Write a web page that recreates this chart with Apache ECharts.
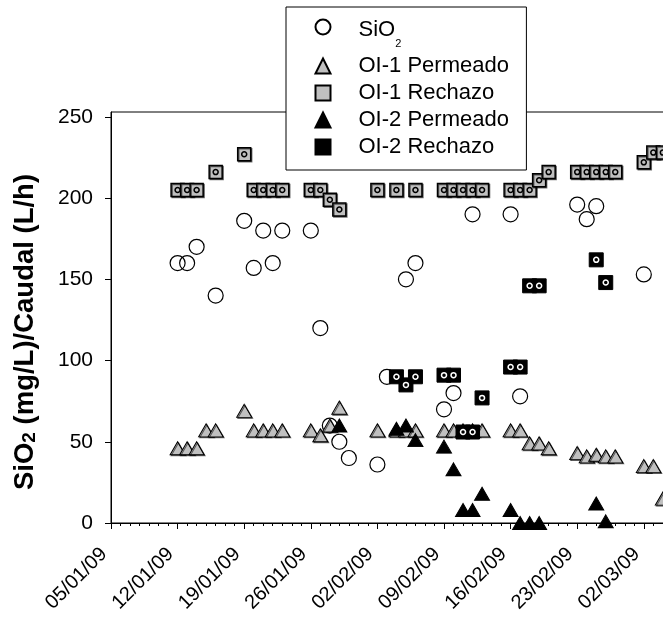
<!DOCTYPE html>
<html><head><meta charset="utf-8">
<script src="https://cdn.jsdelivr.net/npm/echarts@6/dist/echarts.min.js"></script>
<style>html,body{margin:0;padding:0;background:#fff}#c{width:663px;height:622px}</style>
</head><body><div id="c"></div>
<script>
// ---- data (dates as YYYY-MM-DD, values in mg/L or L/h) ----
const xTickLabels = ['05/01/09','12/01/09','19/01/09','26/01/09','02/02/09','09/02/09','16/02/09','23/02/09','02/03/09','09/03/09'];
const yTicks = [0, 50, 100, 150, 200, 250];

const sio2Dates = ['2009-01-12','2009-01-13','2009-01-14','2009-01-16','2009-01-19','2009-01-20','2009-01-21','2009-01-22','2009-01-23','2009-01-26','2009-01-27','2009-01-28','2009-01-29','2009-01-30','2009-02-02','2009-02-03','2009-02-05','2009-02-06','2009-02-09','2009-02-10','2009-02-12','2009-02-16','2009-02-17','2009-02-23','2009-02-24','2009-02-25','2009-03-02'];
const sio2Values = [160,160,170,140,186,157,180,160,180,180,120,60,50,40,36,90,150,160,70,80,190,190,78,196,187,195,153];

const oi1PermDates = ['2009-01-12','2009-01-13','2009-01-14','2009-01-15','2009-01-16','2009-01-19','2009-01-20','2009-01-21','2009-01-22','2009-01-23','2009-01-26','2009-01-27','2009-01-28','2009-01-29','2009-02-02','2009-02-04','2009-02-05','2009-02-06','2009-02-09','2009-02-10','2009-02-11','2009-02-12','2009-02-13','2009-02-16','2009-02-17','2009-02-18','2009-02-19','2009-02-20','2009-02-23','2009-02-24','2009-02-25','2009-02-26','2009-02-27','2009-03-02','2009-03-03','2009-03-04'];
const oi1PermValues = [46,46,46,57,57,69,57,57,57,57,57,54,60,71,57,57,57,57,57,57,57,57,57,57,57,49,49,46,43,41,42,41,41,35,35,15];

const oi1RechDates = ['2009-01-12','2009-01-13','2009-01-14','2009-01-16','2009-01-19','2009-01-20','2009-01-21','2009-01-22','2009-01-23','2009-01-26','2009-01-27','2009-01-28','2009-01-29','2009-02-02','2009-02-04','2009-02-06','2009-02-09','2009-02-10','2009-02-11','2009-02-12','2009-02-13','2009-02-16','2009-02-17','2009-02-18','2009-02-19','2009-02-20','2009-02-23','2009-02-24','2009-02-25','2009-02-26','2009-02-27','2009-03-02','2009-03-03','2009-03-04'];
const oi1RechValues = [205,205,205,216,227,205,205,205,205,205,205,199,193,205,205,205,205,205,205,205,205,205,205,205,211,216,216,216,216,216,216,222,228,228];

const oi2PermDates = ['2009-01-29','2009-02-04','2009-02-05','2009-02-06','2009-02-09','2009-02-10','2009-02-11','2009-02-12','2009-02-13','2009-02-16','2009-02-17','2009-02-18','2009-02-19','2009-02-25','2009-02-26'];
const oi2PermValues = [60,58,60,51,47,33,8,8,18,8,0,0,0,12,1];

const oi2RechDates = ['2009-02-04','2009-02-05','2009-02-06','2009-02-09','2009-02-10','2009-02-11','2009-02-12','2009-02-13','2009-02-16','2009-02-17','2009-02-18','2009-02-19','2009-02-25','2009-02-26'];
const oi2RechValues = [90,85,90,91,91,56,56,77,96,96,146,146,162,148];

// ---- helpers ----
const BASE = Date.UTC(2009, 0, 5);
function dayOf(s) { const p = s.split('-').map(Number); return Math.round((Date.UTC(p[0], p[1]-1, p[2]) - BASE) / 86400000); }
function pairs(ds, vs) { return ds.map((d, i) => [dayOf(d), vs[i]]); }

const FONT = "'Liberation Sans', Arial, sans-serif";
const GRAY = '#c0c0c0';
const SH = {shadowColor: 'rgba(0,0,0,0.55)', shadowOffsetX: 1, shadowOffsetY: 1, shadowBlur: 0};

const chart = echarts.init(document.getElementById('c'), null, {renderer: 'canvas'});
const noEmph = {disabled: true};
const option = {
  animation: false,
  grid: {left: 111, top: 112, bottom: 99, width: 599.4, show: true, borderColor: '#000', borderWidth: 1, backgroundColor: 'transparent', outerBoundsMode: 'none', containLabel: false},
  xAxis: {
    type: 'value', min: 0, max: 63, interval: 7,
    axisLine: {onZero: false, lineStyle: {color: '#000', width: 1}},
    axisTick: {length: 6, lineStyle: {color: '#000'}},
    minorTick: {show: true, splitNumber: 7, length: 3, lineStyle: {color: '#000'}},
    splitLine: {show: false}, minorSplitLine: {show: false},
    axisLabel: {rotate: 45, margin: 21, padding: [0, 10, 0, 0], showMaxLabel: false, fontSize: 20, fontFamily: FONT, color: '#000',
      formatter: v => { const i = Math.round(v / 7); return (v % 7 === 0 && xTickLabels[i]) ? xTickLabels[i] : ''; }}
  },
  yAxis: {
    type: 'value', min: 0, max: 253, interval: 50,
    axisLine: {show: true, lineStyle: {color: '#000', width: 1}},
    axisTick: {show: true, length: 6, customValues: yTicks, lineStyle: {color: '#000'}},
    axisLabel: {customValues: yTicks, margin: 18, fontSize: 21, fontFamily: FONT, color: '#000'},
    splitLine: {show: false},
    name: '{a|SiO}{b|2}{a| (mg/L)/Caudal (L/h)}',
    nameLocation: 'middle', nameRotate: 90, nameGap: 72,
    nameTextStyle: {padding: [0, 29, 0, 0], rich: {
      a: {fontSize: 27.5, fontWeight: 'bold', fontFamily: FONT, color: '#000', lineHeight: 32, verticalAlign: 'bottom'},
      b: {fontSize: 19, fontWeight: 'bold', fontFamily: FONT, color: '#000', lineHeight: 19, verticalAlign: 'bottom'}
    }}
  },
  legend: {
    orient: 'vertical', left: 286, top: 7, padding: [9, 17.5, 12, 28.5], itemGap: 5,
    itemWidth: 15, itemHeight: 15, backgroundColor: '#fff', borderColor: '#000', borderWidth: 1,
    selectedMode: false,
    data: ['SiO2', 'OI-1 Permeado', 'OI-1 Rechazo', 'OI-2 Permeado', 'OI-2 Rechazo'],
    formatter: n => n === 'SiO2' ? '{a1|SiO}{s|2}' : '{a|' + n + '}',
    textStyle: {rich: {
      a: {fontSize: 22, fontFamily: FONT, color: '#000', lineHeight: 22, padding: [0, 0, 0, 23], verticalAlign: 'top'},
      a1: {fontSize: 22, fontFamily: FONT, color: '#000', lineHeight: 22, padding: [3.4, 0, 0, 23], verticalAlign: 'top'},
      s: {fontSize: 11, fontFamily: FONT, color: '#000', lineHeight: 12, padding: [22.3, 0, 0.7, 0], verticalAlign: 'top'}
    }}
  },
  series: [
    {name: 'SiO2', type: 'scatter', symbol: 'circle', symbolSize: 15, data: pairs(sio2Dates, sio2Values), emphasis: noEmph,
      itemStyle: {color: 'rgba(255,255,255,0)', borderColor: '#000', borderWidth: 1.2, opacity: 1}},
    {name: 'OI-1 Permeado', type: 'scatter', symbol: 'triangle', symbolSize: [15, 13], data: pairs(oi1PermDates, oi1PermValues), emphasis: noEmph,
      itemStyle: Object.assign({color: GRAY, borderColor: '#000', borderWidth: 1, opacity: 1}, SH)},
    {name: 'OI-1 Rechazo', type: 'scatter', symbol: 'rect', symbolSize: 13, data: pairs(oi1RechDates, oi1RechValues), emphasis: noEmph,
      itemStyle: Object.assign({color: GRAY, borderColor: '#000', borderWidth: 1.5, opacity: 1}, SH)},
    {name: 'r1dot', type: 'scatter', symbol: 'circle', symbolSize: 5, data: pairs(oi1RechDates, oi1RechValues), emphasis: noEmph, silent: true,
      itemStyle: {color: GRAY, borderColor: '#000', borderWidth: 1.5, opacity: 1}},
    {name: 'OI-2 Permeado', type: 'scatter', symbol: 'triangle', symbolSize: [15, 13], data: pairs(oi2PermDates, oi2PermValues), emphasis: noEmph,
      itemStyle: {color: '#000', borderColor: '#000', borderWidth: 1, opacity: 1}},
    {name: 'OI-2 Rechazo', type: 'scatter', symbol: 'rect', symbolSize: 14, data: pairs(oi2RechDates, oi2RechValues), emphasis: noEmph,
      itemStyle: {color: '#000', borderColor: '#000', borderWidth: 1, opacity: 1}},
    {name: 'r2dot', type: 'scatter', symbol: 'circle', symbolSize: 5, data: pairs(oi2RechDates, oi2RechValues), emphasis: noEmph, silent: true,
      itemStyle: {color: '#000', borderColor: '#fff', borderWidth: 1.5, opacity: 1}}
  ]
};
chart.setOption(option);
</script>
</body></html>
